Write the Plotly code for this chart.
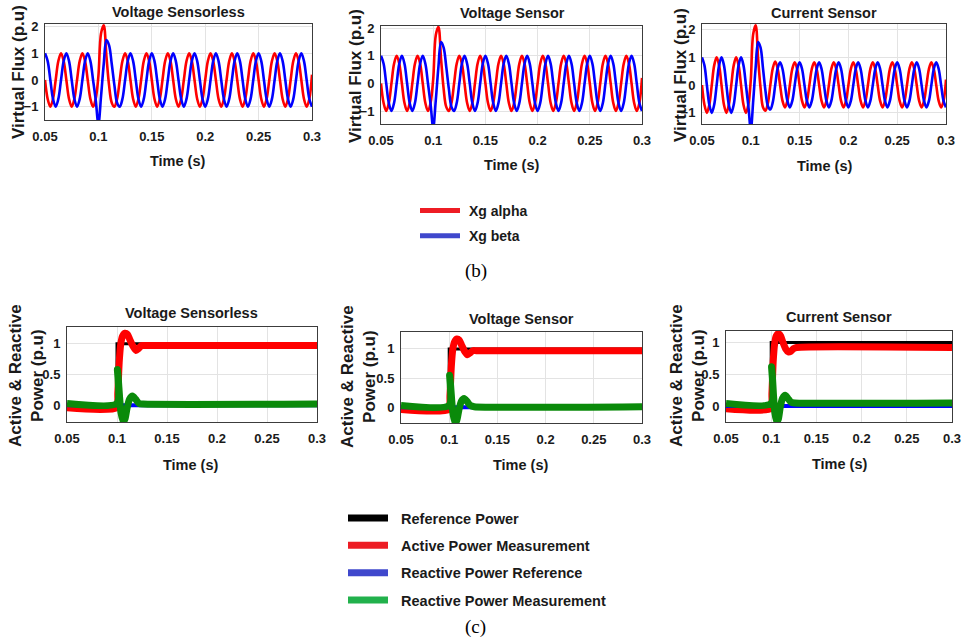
import plotly.graph_objects as go

W, H = 970, 643
FONT = "Liberation Sans"
TXT = "#1a1a1a"

# ---------------------------------------------------------------------------
# Virtual flux (p.u), sampled every eighth of a 50 Hz cycle (one row per cycle)
# ---------------------------------------------------------------------------
flux_t = [round(0.05 + 0.0025 * k, 4) for k in range(101)]

vsl_alpha = [
    0, -0.71, -1, -0.71, 0, 0.71, 1, 0.71,
    0, -0.71, -1, -0.71, 0, 0.71, 1, 0.71,
    0, -0.71, -1, -0.7, 0.15, 1.75, 2.05, 0.9,
    -0.2, -0.85, -1, -0.71, 0, 0.71, 1, 0.71,
    0, -0.71, -1, -0.71, 0, 0.71, 1, 0.71,
    0, -0.71, -1, -0.71, 0, 0.71, 1, 0.71,
    0, -0.71, -1, -0.71, 0, 0.71, 1, 0.71,
    0, -0.71, -1, -0.71, 0, 0.71, 1, 0.71,
    0, -0.71, -1, -0.71, 0, 0.71, 1, 0.71,
    0, -0.71, -1, -0.71, 0, 0.71, 1, 0.71,
    0, -0.71, -1, -0.71, 0, 0.71, 1, 0.71,
    0, -0.71, -1, -0.71, 0, 0.71, 1, 0.71,
    0, -0.71, -1, -0.71, 0.2]
vsl_beta = [
    1, 0.71, 0, -0.71, -1, -0.71, 0, 0.71,
    1, 0.71, 0, -0.71, -1, -0.71, 0, 0.71,
    1, 0.71, 0, -0.75, -1.65, -0.6, 0.6, 1.5,
    1.3, 0.6, -0.2, -0.85, -1, -0.71, 0, 0.71,
    1, 0.71, 0, -0.71, -1, -0.71, 0, 0.71,
    1, 0.71, 0, -0.71, -1, -0.71, 0, 0.71,
    1, 0.71, 0, -0.71, -1, -0.71, 0, 0.71,
    1, 0.71, 0, -0.71, -1, -0.71, 0, 0.71,
    1, 0.71, 0, -0.71, -1, -0.71, 0, 0.71,
    1, 0.71, 0, -0.71, -1, -0.71, 0, 0.71,
    1, 0.71, 0, -0.71, -1, -0.71, 0, 0.71,
    1, 0.71, 0, -0.71, -1, -0.71, 0, 0.71,
    1, 0.71, 0, -0.71, -1]

vs_alpha = [
    0, -0.71, -1, -0.71, 0, 0.71, 1, 0.71,
    0, -0.71, -1, -0.71, 0, 0.71, 1, 0.71,
    0, -0.71, -1, -0.7, 0.15, 1.75, 2.05, 0.9,
    -0.2, -0.85, -1, -0.71, 0, 0.71, 1, 0.71,
    0, -0.71, -1, -0.71, 0, 0.71, 1, 0.71,
    0, -0.71, -1, -0.71, 0, 0.71, 1, 0.71,
    0, -0.71, -1, -0.71, 0, 0.71, 1, 0.71,
    0, -0.71, -1, -0.71, 0, 0.71, 1, 0.71,
    0, -0.71, -1, -0.71, 0, 0.71, 1, 0.71,
    0, -0.71, -1, -0.71, 0, 0.71, 1, 0.71,
    0, -0.71, -1, -0.71, 0, 0.71, 1, 0.71,
    0, -0.71, -1, -0.71, 0, 0.71, 1, 0.71,
    0, -0.71, -1, -0.71, 0.2]
vs_beta = [
    1, 0.71, 0, -0.71, -1, -0.71, 0, 0.71,
    1, 0.71, 0, -0.71, -1, -0.71, 0, 0.71,
    1, 0.71, 0, -0.75, -1.6, -0.6, 0.6, 1.5,
    1.3, 0.6, -0.2, -0.85, -1, -0.71, 0, 0.71,
    1, 0.71, 0, -0.71, -1, -0.71, 0, 0.71,
    1, 0.71, 0, -0.71, -1, -0.71, 0, 0.71,
    1, 0.71, 0, -0.71, -1, -0.71, 0, 0.71,
    1, 0.71, 0, -0.71, -1, -0.71, 0, 0.71,
    1, 0.71, 0, -0.71, -1, -0.71, 0, 0.71,
    1, 0.71, 0, -0.71, -1, -0.71, 0, 0.71,
    1, 0.71, 0, -0.71, -1, -0.71, 0, 0.71,
    1, 0.71, 0, -0.71, -1, -0.71, 0, 0.71,
    1, 0.71, 0, -0.71, -1]

cs_alpha = [
    0, -0.71, -1, -0.71, 0, 0.71, 1, 0.71,
    0, -0.71, -1, -0.71, 0, 0.71, 1, 0.71,
    0, -0.71, -1, -0.7, 0.2, 1.85, 2.15, 0.95,
    -0.1, -0.8, -0.92, -0.65, 0, 0.6, 0.85, 0.6,
    0, -0.57, -0.8, -0.57, 0, 0.58, 0.82, 0.58,
    0, -0.57, -0.8, -0.57, 0, 0.58, 0.82, 0.58,
    0, -0.57, -0.8, -0.57, 0, 0.58, 0.82, 0.58,
    0, -0.57, -0.8, -0.57, 0, 0.58, 0.82, 0.58,
    0, -0.57, -0.8, -0.57, 0, 0.58, 0.82, 0.58,
    0, -0.57, -0.8, -0.57, 0, 0.58, 0.82, 0.58,
    0, -0.57, -0.8, -0.57, 0, 0.58, 0.82, 0.58,
    0, -0.57, -0.8, -0.57, 0, 0.58, 0.82, 0.58,
    0, -0.57, -0.8, -0.57, 0.2]
cs_beta = [
    1, 0.71, 0, -0.71, -1, -0.71, 0, 0.71,
    1, 0.71, 0, -0.71, -1, -0.71, 0, 0.71,
    1, 0.71, 0, -0.75, -1.6, -0.55, 0.65, 1.55,
    1.35, 0.6, -0.2, -0.75, -0.88, -0.62, 0, 0.6,
    0.82, 0.58, 0, -0.57, -0.8, -0.57, 0, 0.58,
    0.82, 0.58, 0, -0.57, -0.8, -0.57, 0, 0.58,
    0.82, 0.58, 0, -0.57, -0.8, -0.57, 0, 0.58,
    0.82, 0.58, 0, -0.57, -0.8, -0.57, 0, 0.58,
    0.82, 0.58, 0, -0.57, -0.8, -0.57, 0, 0.58,
    0.82, 0.58, 0, -0.57, -0.8, -0.57, 0, 0.58,
    0.82, 0.58, 0, -0.57, -0.8, -0.57, 0, 0.58,
    0.82, 0.58, 0, -0.57, -0.8, -0.57, 0, 0.58,
    0.82, 0.58, 0, -0.57, -0.8]

# ---------------------------------------------------------------------------
# Active / reactive power (p.u)
# ---------------------------------------------------------------------------
pref_t = [0.05, 0.1, 0.1, 0.3]
pref_v = [0, 0, 1, 1]
qref_t = [0.05, 0.3]
qref_v = [0, 0]

p_t = [0.05, 0.0995, 0.1008, 0.1022, 0.1038, 0.1055, 0.108, 0.1105,
       0.113, 0.116, 0.119, 0.1215, 0.1245, 0.128, 0.3]
q_t = [0.05, 0.0998, 0.1004, 0.1012, 0.1025, 0.104, 0.1062, 0.108,
       0.11, 0.1125, 0.1155, 0.1185, 0.122, 0.126, 0.3]

vsl_p = [-0.04, -0.04, 0.2, 0.7, 1.0, 1.12, 1.17, 1.15, 1.06, 0.96, 0.89, 0.92, 0.97, 0.97, 0.97]
vsl_q = [0.03, 0.03, 0.58, 0.45, 0.15, -0.12, -0.26, -0.22, -0.05, 0.1, 0.15, 0.1, 0.03, 0.02, 0.02]

vs_p = [-0.04, -0.04, 0.2, 0.7, 1.0, 1.12, 1.17, 1.15, 1.06, 0.96, 0.9, 0.93, 0.97, 0.97, 0.97]
vs_q = [0.03, 0.03, 0.55, 0.43, 0.14, -0.12, -0.27, -0.22, -0.05, 0.1, 0.15, 0.1, 0.03, 0.01, 0.01]

cs_p = [-0.04, -0.04, 0.2, 0.7, 0.98, 1.1, 1.14, 1.1, 1.0, 0.9, 0.85, 0.86, 0.9, 0.92, 0.92]
cs_q = [0.04, 0.04, 0.62, 0.5, 0.18, -0.1, -0.25, -0.2, -0.02, 0.12, 0.17, 0.12, 0.06, 0.05, 0.05]

x_ticks = [0.05, 0.1, 0.15, 0.2, 0.25, 0.3]
x_tick_text = ["0.05", "0.1", "0.15", "0.2", "0.25", "0.3"]
flux_ticks = [-1, 0, 1, 2]
power_ticks = [0, 0.5, 1]

flux_titles = ["Voltage Sensorless", "Voltage Sensor", "Current Sensor"]
power_titles = ["Voltage Sensorless", "Voltage Sensor", "Current Sensor"]

RED, BLUE, GREEN, BLACK = "#ff0000", "#0000ff", "#0a8a0a", "#000000"


def px(x):
    return x / W


def py(y):
    return 1 - y / H


# panel boxes in pixels: left, right, top, bottom
flux_boxes = [(45, 312, 24, 120), (381, 642, 26, 124), (702, 946, 24, 124)]
power_boxes = [(67, 317, 327, 422), (401, 642, 332, 423), (726, 952, 331, 422)]
flux_ranges = [[-1.5, 2.1], [-1.47, 2.08], [-1.4, 2.2]]
power_ranges = [[-0.27, 1.27], [-0.27, 1.29], [-0.25, 1.18]]

fig = go.Figure()

flux_sets = [(vsl_alpha, vsl_beta), (vs_alpha, vs_beta), (cs_alpha, cs_beta)]
for i, (a, b) in enumerate(flux_sets):
    ax = "" if i == 0 else str(i + 1)
    for vals, col in ((a, RED), (b, BLUE)):
        fig.add_trace(go.Scatter(
            x=flux_t, y=vals, mode="lines", line=dict(color=col, width=2.6, shape="spline", smoothing=1),
            xaxis="x" + ax, yaxis="y" + ax, showlegend=False, hoverinfo="skip"))

power_sets = [(vsl_p, vsl_q), (vs_p, vs_q), (cs_p, cs_q)]
for i, (p, q) in enumerate(power_sets):
    ax = str(i + 4)
    fig.add_trace(go.Scatter(x=pref_t, y=pref_v, mode="lines", line=dict(color=BLACK, width=3),
                             xaxis="x" + ax, yaxis="y" + ax, showlegend=False, hoverinfo="skip"))
    fig.add_trace(go.Scatter(x=p_t, y=p, mode="lines", line=dict(color=RED, width=7, shape="spline", smoothing=0.6),
                             xaxis="x" + ax, yaxis="y" + ax, showlegend=False, hoverinfo="skip"))
    fig.add_trace(go.Scatter(x=qref_t, y=qref_v, mode="lines", line=dict(color=BLUE, width=4),
                             xaxis="x" + ax, yaxis="y" + ax, showlegend=False, hoverinfo="skip"))
    fig.add_trace(go.Scatter(x=q_t, y=q, mode="lines", line=dict(color=GREEN, width=7, shape="spline", smoothing=0.6),
                             xaxis="x" + ax, yaxis="y" + ax, showlegend=False, hoverinfo="skip"))

# legend entries
for name, col, grp in (("Xg alpha", "#ee1c24", "a"), ("Xg beta", "#3f48cc", "b")):
    fig.add_trace(go.Scatter(x=[None], y=[None], mode="lines", name="&nbsp;" + name, legendgroup=grp,
                             line=dict(color=col, width=5), legend="legend"))
for name, col, grp in (("Reference Power", "#000000", "c"), ("Active Power Measurement", "#ed1c24", "d"),
                       ("Reactive Power Reference", "#3f48cc", "e"), ("Reactive Power Measurement", "#22b14c", "f")):
    fig.add_trace(go.Scatter(x=[None], y=[None], mode="lines", name="&nbsp;&nbsp;" + name, legendgroup=grp,
                             line=dict(color=col, width=7), legend="legend2"))

layout = dict(
    width=W, height=H, margin=dict(l=0, r=0, t=0, b=0),
    paper_bgcolor="white", plot_bgcolor="white",
    font=dict(family=FONT, color=TXT),
    legend=dict(x=px(415), y=py(195), xanchor="left", yanchor="top", bgcolor="rgba(0,0,0,0)",
                font=dict(family=FONT, size=14, color=TXT, weight="bold"), itemwidth=40,
                traceorder="grouped", tracegroupgap=4),
    legend2=dict(x=px(343), y=py(502), xanchor="left", yanchor="top", bgcolor="rgba(0,0,0,0)",
                 font=dict(family=FONT, size=14.5, color=TXT, weight="bold"), itemwidth=40,
                 traceorder="grouped", tracegroupgap=5.5),
)

axis_common = dict(showgrid=True, gridcolor="#e3e3e3", gridwidth=1, zeroline=False, automargin=False,
                   showline=True, linecolor="#3c3c3c", linewidth=1, mirror=True, ticks="")

annotations = []
for i, (box, rng) in enumerate(zip(flux_boxes + power_boxes, flux_ranges + power_ranges)):
    l, r, t, b = box
    sfx = "" if i == 0 else str(i + 1)
    layout["xaxis" + sfx] = dict(axis_common, domain=[px(l), px(r)], range=[0.05, 0.3],
                                 tickvals=x_ticks, ticktext=x_tick_text, anchor="y" + sfx,
                                 tickfont=dict(size=13, weight="bold", color=TXT), ticklabelstandoff=4)
    layout["yaxis" + sfx] = dict(axis_common, domain=[py(b), py(t)], range=rng,
                                 tickvals=flux_ticks if i < 3 else power_ticks, anchor="x" + sfx,
                                 tickfont=dict(size=13, weight="bold", color=TXT), ticklabelstandoff=3)

# panel titles, axis titles
title_pos = [(178, 12), (512, 13), (824, 13), (191, 313), (521, 319), (839, 317)]
time_pos = [(178, 161), (512, 165), (825, 166), (191, 465), (521, 465), (840, 464)]
ylab_pos = [(18, 72), (356, 76), (680, 75), (26, 376), (358, 377), (687, 376)]
for i in range(6):
    annotations.append(dict(text="<b>%s</b>" % (flux_titles + power_titles)[i], x=px(title_pos[i][0]),
                            y=py(title_pos[i][1]), xref="paper", yref="paper", showarrow=False,
                            font=dict(size=14.5, color=TXT), xanchor="center", yanchor="middle"))
    annotations.append(dict(text="<b>Time (s)</b>", x=px(time_pos[i][0]), y=py(time_pos[i][1]),
                            xref="paper", yref="paper", showarrow=False, font=dict(size=14.5, color=TXT),
                            xanchor="center", yanchor="middle"))
    ytxt = "<b>Virtual Flux (p.u)</b>" if i < 3 else "<b>Active &amp; Reactive</b><br><b>Power (p.u)</b>"
    annotations.append(dict(text=ytxt, x=px(ylab_pos[i][0]), y=py(ylab_pos[i][1]), xref="paper",
                            yref="paper", showarrow=False, textangle=-90,
                            font=dict(size=17, color=TXT),
                            xanchor="center", yanchor="middle"))

annotations.append(dict(text="(b)", x=px(476), y=py(271), xref="paper", yref="paper", showarrow=False,
                        font=dict(family="Liberation Serif", size=19, color="#000"),
                        xanchor="center", yanchor="middle"))
annotations.append(dict(text="(c)", x=px(475), y=py(627), xref="paper", yref="paper", showarrow=False,
                        font=dict(family="Liberation Serif", size=19, color="#000"),
                        xanchor="center", yanchor="middle"))
layout["annotations"] = annotations

fig.update_layout(**layout)
fig.write_html("out.html")
